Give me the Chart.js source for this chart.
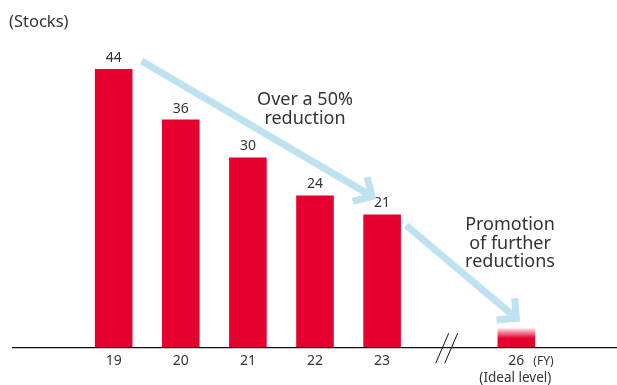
<!DOCTYPE html>
<html>
<head>
<meta charset="utf-8">
<script src="https://cdn.jsdelivr.net/npm/chart.js@4/dist/chart.umd.min.js"></script>
<style>
  html, body { margin: 0; padding: 0; background: #fff; }
  canvas { display: block; }
</style>
</head>
<body>
<canvas id="myChart" width="617" height="385"></canvas>
<script>
// data
const fiscalYears = ['19', '20', '21', '22', '23', '26'];
const stocks = [44, 36, 30, 24, 21, 3];
const unitLabel = '(Stocks)';
const fyLabel = '(FY)';
const idealLabel = '(Ideal level)';
const arrowText1 = ['Over a 50%', 'reduction'];
const arrowText2 = ['Promotion', 'of further', 'reductions'];

const RED = '#e50030';
const TEXT = '#333333';
const ARROW = '#bfe2f1';
const FONT = '"Noto Sans", "Open Sans", sans-serif';

// axis slots: empty slot at each end, and one empty slot for the break before 26
const labels = [''].concat(fiscalYears.slice(0, 5), [''], fiscalYears.slice(5), ['']);
const values = [null].concat(stocks.slice(0, 5), [null], stocks.slice(5), [null]);
const idealIdx = labels.length - 2;
const breakIdx = labels.length - 3;

const ctx = document.getElementById('myChart').getContext('2d');

function drawArrow(c, x1, y1, x2, y2) {
    const ang = Math.atan2(y2 - y1, x2 - x1);
    const head = 20;
    c.save();
    c.strokeStyle = ARROW;
    c.lineWidth = 7;
    c.lineCap = 'butt';
    c.lineJoin = 'miter';
    c.beginPath();
    c.moveTo(x1, y1);
    c.lineTo(x2 - Math.cos(ang) * 3, y2 - Math.sin(ang) * 3);
    c.stroke();
    c.beginPath();
    c.moveTo(x2 - head * Math.cos(ang - Math.PI / 4), y2 - head * Math.sin(ang - Math.PI / 4));
    c.lineTo(x2, y2);
    c.lineTo(x2 - head * Math.cos(ang + Math.PI / 4), y2 - head * Math.sin(ang + Math.PI / 4));
    c.stroke();
    c.restore();
}

const extras = {
    id: 'extras',
    afterDatasetsDraw(chart) {
        const c = chart.ctx;
        const meta = chart.getDatasetMeta(0);
        const x = chart.scales.x;
        const area = chart.chartArea;
        const bar = i => meta.data[i];

        c.save();
        c.fillStyle = TEXT;
        c.textAlign = 'center';
        c.textBaseline = 'middle';
        c.font = '14px ' + FONT;
        // value labels
        for (let i = 1; i <= 5; i++) {
            c.fillText(String(values[i]), bar(i).x, bar(i).y - 11);
        }

        // unit label
        c.textAlign = 'left';
        c.font = '16.5px ' + FONT;
        c.fillText(unitLabel, 9, 22);

        // FY + ideal level
        const ix = x.getPixelForValue(idealIdx);
        c.font = '12px ' + FONT;
        c.fillText(fyLabel, ix + 17, area.bottom + 14);
        c.textAlign = 'center';
        c.font = '13.5px ' + FONT;
        c.fillText(idealLabel, ix - 1, 378);

        // arrows
        const b19 = bar(1), b23 = bar(5), b26 = bar(idealIdx);
        drawArrow(c, b19.x + 28, b19.y - 8, b23.x - 10, b23.y - 18);
        drawArrow(c, b23.x + 24, b23.y + 11, b26.x, b26.y - 10);

        // arrow texts
        c.fillStyle = TEXT;
        c.font = '18px ' + FONT;
        arrowText1.forEach((t, k) => c.fillText(t, 305, 100 + k * 19));
        arrowText2.forEach((t, k) => c.fillText(t, 510, 225 + k * 18.5));

        // axis break marks
        const bx = x.getPixelForValue(breakIdx) - 2;
        const by = area.bottom;
        c.strokeStyle = '#111';
        c.lineWidth = 1;
        [-4.5, 4.5].forEach(d => {
            c.beginPath();
            c.moveTo(bx + d + 6, by - 14);
            c.lineTo(bx + d - 7, by + 16);
            c.stroke();
        });
        c.restore();
    }
};

new Chart(ctx, {
    type: 'bar',
    data: {
        labels: labels,
        datasets: [{
            data: values,
            backgroundColor: (context) => {
                if (context.dataIndex !== idealIdx || !context.chart.chartArea) return RED;
                const ch = context.chart;
                const top = ch.scales.y.getPixelForValue(values[idealIdx]);
                const g = ch.ctx.createLinearGradient(0, top, 0, top + 10);
                g.addColorStop(0, '#fde6e9');
                g.addColorStop(1, RED);
                return g;
            },
            borderWidth: 0,
            barPercentage: 0.56,
            categoryPercentage: 1
        }]
    },
    options: {
        responsive: false,
        animation: false,
        devicePixelRatio: 1,
        layout: { padding: { left: 13, right: 0, top: 31, bottom: 11 } },
        scales: {
            x: {
                grid: { display: false, drawTicks: false },
                border: { display: true, color: '#111', width: 1.2 },
                ticks: {
                    color: TEXT,
                    padding: 5,
                    maxRotation: 0,
                    autoSkip: false,
                    font: { size: 14, family: FONT }
                }
            },
            y: {
                display: false,
                min: 0,
                max: 50
            }
        },
        plugins: {
            legend: { display: false },
            tooltip: { enabled: false }
        }
    },
    plugins: [extras]
});
</script>
</body>
</html>
